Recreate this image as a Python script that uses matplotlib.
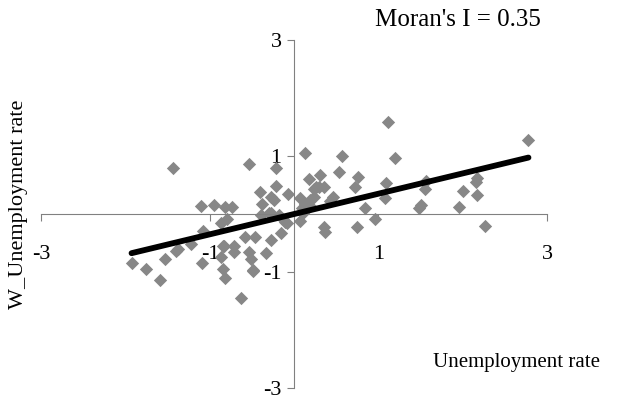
import matplotlib.pyplot as plt
import numpy as np

# Standardised unemployment rate (x) and its spatial lag (y)
unemp = [-1.93, -1.76, -1.59, -1.53, -1.44, -1.40, -1.38, -1.22, -1.10, -1.09,
         -1.08, -0.95, -0.87, -0.87, -0.85, -0.85, -0.83, -0.82, -0.82, -0.80,
         -0.74, -0.72, -0.72, -0.63, -0.58, -0.54, -0.54, -0.51, -0.49, -0.49,
         -0.47, -0.40, -0.39, -0.38, -0.33, -0.30, -0.27, -0.27, -0.27, -0.24,
         -0.22, -0.22, -0.18, -0.16, -0.11, -0.09, -0.07, 0.07, 0.07, 0.09,
         0.10, 0.13, 0.13, 0.18, 0.19, 0.19, 0.23, 0.23, 0.26, 0.29,
         0.31, 0.35, 0.35, 0.36, 0.43, 0.46, 0.53, 0.57, 0.72, 0.75,
         0.76, 0.84, 0.96, 1.08, 1.09, 1.11, 1.20, 1.48, 1.50, 1.55,
         1.56, 1.95, 2.00, 2.16, 2.17, 2.17, 2.26, 2.78]
w_unemp = [-0.84, -0.94, -1.14, -0.78, 0.80, -0.63, -0.60, -0.52, 0.14, -0.84,
           -0.29, 0.15, -0.15, -0.74, -0.94, -0.56, -0.55, -1.11, 0.12, -0.08,
           0.12, -0.56, -0.65, -1.44, -0.40, 0.87, -0.65, -0.78, -0.97, -0.99,
           -0.40, 0.38, -0.02, 0.17, -0.68, 0.02, 0.01, 0.30, -0.44, 0.24,
           0.80, 0.48, -0.02, -0.33, -0.13, -0.16, 0.35, 0.27, -0.12, 0.10,
           0.01, 0.17, 1.06, 0.60, 0.24, 0.13, 0.30, 0.43, 0.46, 0.46,
           0.67, 0.46, -0.22, -0.31, 0.23, 0.30, 0.73, 1.00, 0.46, -0.22,
           0.64, 0.10, -0.09, 0.27, 0.53, 1.58, 0.96, 0.10, 0.16, 0.43,
           0.57, 0.12, 0.39, 0.56, 0.62, 0.33, -0.21, 1.28]
moran_i = 0.35

plt.rcParams['font.family'] = ['Liberation Serif', 'DejaVu Serif']

fig = plt.figure(figsize=(6.27, 4.0), dpi=100)
ax = fig.add_axes([0.066, 0.03, 0.8064, 0.87])

ax.scatter(unemp, w_unemp, marker='D', s=46, color='#878787', linewidths=0, zorder=2)

# regression line through the origin with slope = Moran's I
xs = np.array([min(unemp), max(unemp)])
ax.plot(xs, moran_i * xs, color='black', lw=4.2, solid_capstyle='round', zorder=3)

ax.set_xlim(-3, 3)
ax.set_ylim(-3, 3)
for side in ['top', 'right']:
    ax.spines[side].set_visible(False)
for side in ['left', 'bottom']:
    ax.spines[side].set_position(('data', 0))
    ax.spines[side].set_color('#808080')
    ax.spines[side].set_linewidth(0.8)

ax.set_xticks([-3, -1, 1, 3])
ax.set_yticks([-3, -1, 1, 3])
ax.set_xticklabels(['-3', '-1', '1', '3'])
ax.set_yticklabels(['-3', '-1', '1', '3'])
ax.tick_params(axis='x', direction='out', length=5, color='#808080', pad=17, labelsize=16)
ax.tick_params(axis='y', direction='out', length=5, color='#808080', pad=4, labelsize=16)

fig.text(0.03, 0.49, 'W_Unemployment rate', rotation=90, ha='center', va='center', fontsize=16)
fig.text(0.957, 0.095, 'Unemployment rate', ha='right', va='center', fontsize=15)
fig.text(0.862, 0.95, "Moran's I = 0.35", ha='right', va='center', fontsize=18)

fig.savefig('out.png', dpi=100)
